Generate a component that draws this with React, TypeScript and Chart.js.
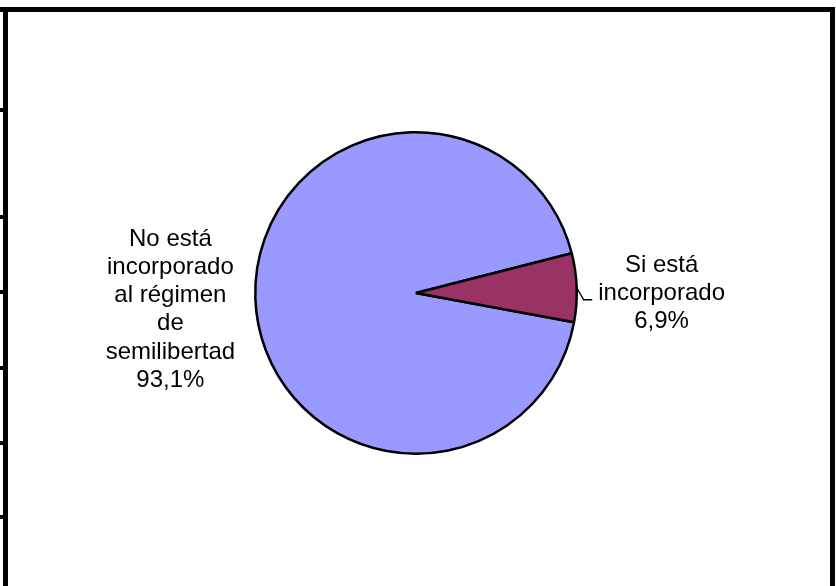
import React, { useEffect, useRef } from "react";
import { Chart, registerables } from "chart.js";

Chart.register(...registerables);

const categories = [
  "No está incorporado al régimen de semilibertad",
  "Si está incorporado",
];
const labelLines = [
  ["No está", "incorporado", "al régimen", "de", "semilibertad"],
  ["Si está", "incorporado"],
];
const values = [93.1, 6.9];
const sliceColors = ["#9999FF", "#993366"];
const showLeader = [false, true];

const FONT = '24px "Liberation Sans", Arial, sans-serif';
const LINE_H = 28.2;

const framePlugin = {
  id: "frame",
  beforeDraw(chart: any) {
    const ctx = chart.ctx;
    ctx.save();
    ctx.fillStyle = "#ffffff";
    ctx.fillRect(0, 0, chart.width, chart.height);
    ctx.fillStyle = "#000000";
    ctx.fillRect(0, 7, 835, 5);
    ctx.fillRect(3, 7, 5, chart.height - 7);
    ctx.fillRect(830, 7, 5, chart.height - 7);
    [108, 215, 290, 366, 441, 515].forEach((y) => ctx.fillRect(0, y, 4, 4));
    ctx.restore();
  },
};

const labelPlugin = {
  id: "sliceLabels",
  afterDraw(chart: any) {
    const ctx = chart.ctx;
    const meta = chart.getDatasetMeta(0);
    ctx.save();
    ctx.font = FONT;
    ctx.fillStyle = "#000000";
    ctx.textAlign = "center";
    ctx.textBaseline = "alphabetic";
    meta.data.forEach((arc: any, i: number) => {
      const { x, y, startAngle, endAngle, outerRadius } = arc.getProps(
        ["x", "y", "startAngle", "endAngle", "outerRadius"],
        true
      );
      const mid = (startAngle + endAngle) / 2;
      const d = outerRadius + 85;
      const ax = x + Math.cos(mid) * d;
      const ay = y + Math.sin(mid) * d;
      const v = chart.data.datasets[0].data[i] as number;
      const lines = [...labelLines[i], v.toFixed(1).replace(".", ",") + "%"];
      const n = lines.length;
      const first = ay + 15 - ((n - 1) / 2) * LINE_H;
      let maxW = 0;
      lines.forEach((t, k) => {
        ctx.fillText(t, ax, first + k * LINE_H);
        maxW = Math.max(maxW, ctx.measureText(t).width);
      });
      if (showLeader[i]) {
        const sx = x + Math.cos(mid) * outerRadius;
        const sy = y + Math.sin(mid) * outerRadius;
        const ey = ay + 15;
        const textLeft = ax - maxW / 2;
        ctx.beginPath();
        ctx.strokeStyle = "#000000";
        ctx.lineWidth = 1.3;
        ctx.moveTo(sx, sy);
        ctx.lineTo(sx + 7, ey);
        ctx.lineTo(textLeft - 6, ey);
        ctx.stroke();
      }
    });
    ctx.restore();
  },
};

export default function App() {
  const ref = useRef<HTMLCanvasElement>(null);
  useEffect(() => {
    if (!ref.current) return;
    const chart = new Chart(ref.current, {
      type: "pie",
      data: {
        labels: categories,
        datasets: [
          {
            data: values,
            backgroundColor: sliceColors,
            borderColor: "#000000",
            borderWidth: 2.5,
          },
        ],
      },
      options: {
        responsive: false,
        animation: false,
        devicePixelRatio: 1,
        rotation: 100.5,
        layout: { padding: { left: 254, right: 258, top: 131, bottom: 131 } },
        plugins: {
          legend: { display: false },
          tooltip: { enabled: false },
        },
      },
      plugins: [framePlugin, labelPlugin],
    });
    return () => chart.destroy();
  }, []);
  return (
    <div style={{ position: "fixed", left: 0, top: 0, width: 836, height: 586 }}>
      <canvas ref={ref} width={836} height={586} />
    </div>
  );
}
